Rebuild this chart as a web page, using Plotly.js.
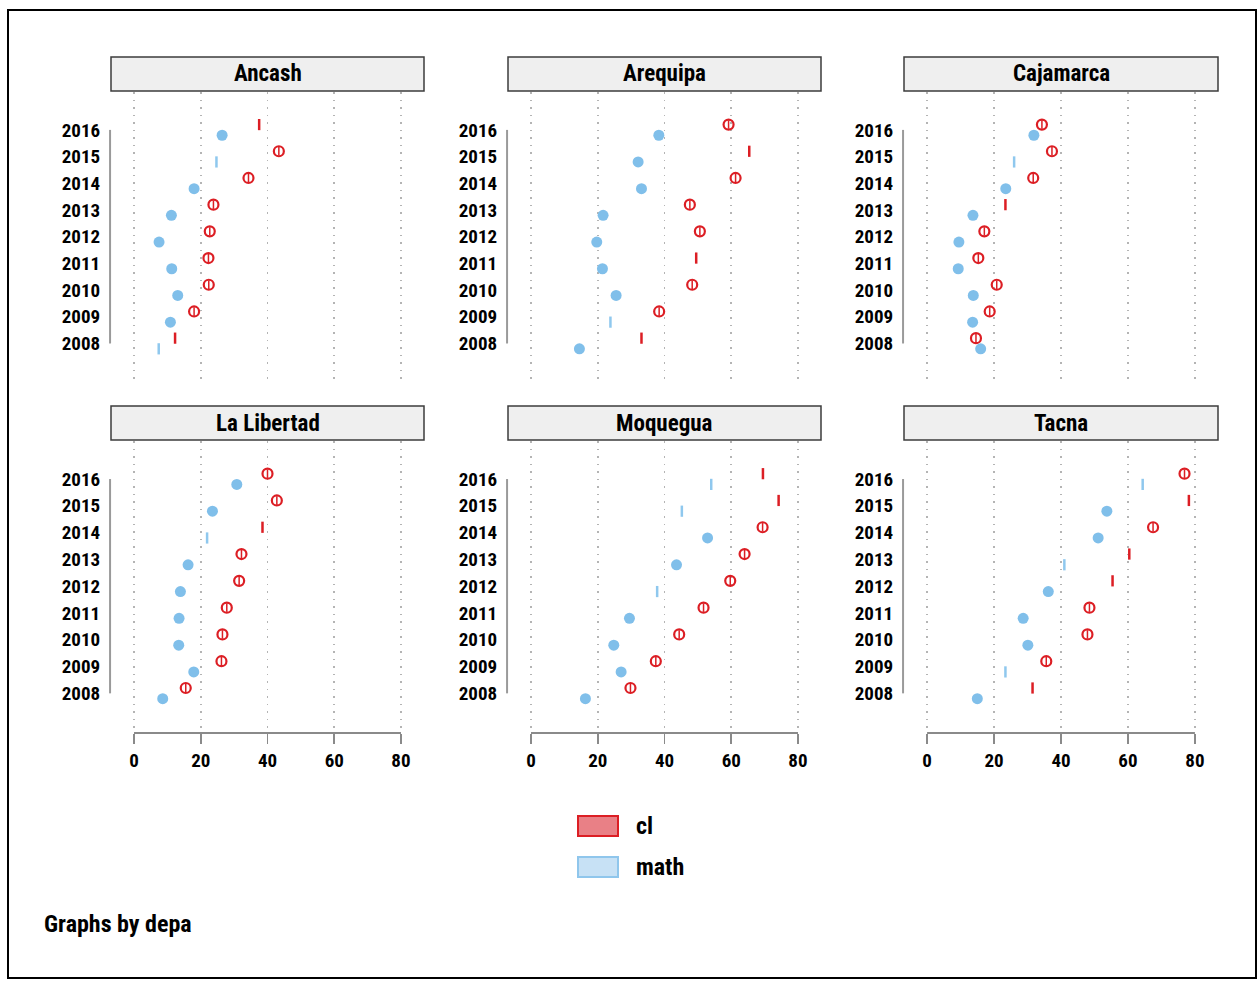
<!DOCTYPE html>
<html>
<head>
<meta charset="utf-8">
<script src="https://cdn.plot.ly/plotly-3.0.1.min.js"></script>
<style>html,body{margin:0;padding:0;background:#fff;}#chart{width:1258px;height:983px;}</style>
</head>
<body>
<div id="chart"></div>
<script>
// ---- data (years 2008..2016) ----
const years = [2008, 2009, 2010, 2011, 2012, 2013, 2014, 2015, 2016];
const regions = ["Ancash", "Arequipa", "Cajamarca", "La Libertad", "Moquegua", "Tacna"];

const ancashCl = [12.3, 18.0, 22.4, 22.3, 22.7, 23.8, 34.3, 43.4, 37.5];
const ancashMath = [7.4, 10.9, 13.1, 11.3, 7.5, 11.2, 18.0, 24.7, 26.4];
const arequipaCl = [33.1, 38.4, 48.3, 49.5, 50.6, 47.6, 61.3, 65.4, 59.2];
const arequipaMath = [14.5, 23.8, 25.5, 21.4, 19.7, 21.6, 33.1, 32.1, 38.3];
const cajamarcaCl = [14.6, 18.7, 20.8, 15.3, 17.1, 23.4, 31.7, 37.3, 34.3];
const cajamarcaMath = [16.0, 13.6, 13.8, 9.3, 9.5, 13.7, 23.5, 26.0, 31.9];
const libertadCl = [15.5, 26.2, 26.5, 27.8, 31.5, 32.2, 38.5, 42.8, 40.0];
const libertadMath = [8.6, 17.9, 13.4, 13.5, 13.9, 16.2, 21.9, 23.5, 30.8];
const moqueguaCl = [29.8, 37.4, 44.4, 51.7, 59.7, 64.0, 69.4, 74.2, 69.5];
const moqueguaMath = [16.3, 27.0, 24.8, 29.5, 37.8, 43.6, 52.9, 45.2, 54.0];
const tacnaCl = [31.5, 35.6, 47.9, 48.5, 55.4, 60.4, 67.5, 78.2, 76.9];
const tacnaMath = [15.0, 23.4, 30.1, 28.7, 36.2, 41.0, 51.1, 53.7, 64.4];

const xTickVals = [0, 20, 40, 60, 80];
const xTickText = ["0", "20", "40", "60", "80"];
const legendLabels = ["cl", "math"];
const noteText = "Graphs by depa";

// ---- style: which marks are drawn as thin ticks (as in the reference) ----
const ancashClTick = [1,0,0,0,0,0,0,0,1];
const ancashMathTick = [1,0,0,0,0,0,0,1,0];
const arequipaClTick = [1,0,0,1,0,0,0,1,0];
const arequipaMathTick = [0,1,0,0,0,0,0,0,0];
const cajamarcaClTick = [0,0,0,0,0,1,0,0,0];
const cajamarcaMathTick = [0,0,0,0,0,0,0,1,0];
const libertadClTick = [0,0,0,0,0,0,1,0,0];
const libertadMathTick = [0,0,0,0,0,0,1,0,0];
const moqueguaClTick = [0,0,0,0,0,0,0,1,1];
const moqueguaMathTick = [0,0,0,0,1,0,0,1,1];
const tacnaClTick = [1,0,0,0,1,1,0,1,0];
const tacnaMathTick = [0,1,0,0,0,1,0,0,1];

const clSeries = [ancashCl, arequipaCl, cajamarcaCl, libertadCl, moqueguaCl, tacnaCl];
const mathSeries = [ancashMath, arequipaMath, cajamarcaMath, libertadMath, moqueguaMath, tacnaMath];
const clTicks = [ancashClTick, arequipaClTick, cajamarcaClTick, libertadClTick, moqueguaClTick, tacnaClTick];
const mathTicks = [ancashMathTick, arequipaMathTick, cajamarcaMathTick, libertadMathTick, moqueguaMathTick, tacnaMathTick];

const W = 1258, H = 983;
const FONT = "Roboto Condensed, Open Sans Condensed, Liberation Sans Narrow, sans-serif";
const RED = "#dc1e24", BLUE = "#80bfea", BLUE_T = "#8fc8ee";
const colPx = [[111, 424], [508, 821], [904, 1218]];
const rowPx = [[92, 383], [441, 733]];
const stripPx = [[57, 91], [406, 440]];
const XR = [-6.9, 86.9];
const YR = [2006.52, 2017.42];

const traces = [];
const layout = {
  width: W, height: H,
  margin: {l: 0, r: 0, t: 0, b: 0},
  paper_bgcolor: "#fff", plot_bgcolor: "#fff",
  showlegend: false,
  font: {family: FONT, color: "#000"},
  shapes: [], annotations: []
};

function pick(arr, flags, want, off) {
  const xs = [], ys = [];
  arr.forEach((v, i) => { if ((flags[i] === 1) === want) { xs.push(v); ys.push(years[i] + off); } });
  return {xs, ys};
}

for (let p = 0; p < 6; p++) {
  const r = Math.floor(p / 3), c = p % 3;
  const sfx = p === 0 ? "" : String(p + 1);
  const xa = "x" + sfx, ya = "y" + sfx;
  const [x0, x1] = colPx[c], [y0, y1] = rowPx[r];
  layout["xaxis" + sfx] = {
    domain: [x0 / W, x1 / W], range: XR, anchor: ya,
    tickvals: xTickVals, ticktext: xTickText,
    showgrid: true, gridcolor: "#b4b4b4", griddash: "1.5px,6px", gridwidth: 1.5,
    zeroline: false, showline: false,
    ticks: r === 1 ? "outside" : "", ticklen: 10, tickwidth: 1.5, tickcolor: "#8a8a8a",
    showticklabels: r === 1,
    tickfont: {family: FONT, size: 19, color: "#000", weight: "bold"},
    fixedrange: true
  };
  layout["yaxis" + sfx] = {
    domain: [1 - y1 / H, 1 - y0 / H], range: YR, anchor: xa,
    tickvals: years, ticktext: years.map(String),
    showgrid: false, zeroline: false, showline: false,
    ticks: "outside", ticklen: 6, tickcolor: "rgba(0,0,0,0)",
    tickfont: {family: FONT, size: 19, color: "#000", weight: "bold"},
    fixedrange: true
  };
  // strip header
  const [s0, s1] = stripPx[r];
  layout.shapes.push({type: "rect", xref: "paper", yref: "paper",
    x0: x0 / W, x1: x1 / W, y0: 1 - s1 / H, y1: 1 - s0 / H,
    fillcolor: "#efefef", line: {color: "#3c3c3c", width: 1.5}});
  layout.annotations.push({xref: "paper", yref: "paper", x: (x0 + x1) / 2 / W, y: 1 - (s0 + s1) / 2 / H,
    text: regions[p], showarrow: false, xanchor: "center", yanchor: "middle",
    font: {family: FONT, size: 23, color: "#000", weight: "bold"}});
  // y axis line (between first and last category)
  layout.shapes.push({type: "line", xref: xa + " domain", yref: ya,
    x0: -0.003, x1: -0.003, y0: years[0], y1: years[years.length - 1],
    line: {color: "#9a9a9a", width: 2}});
  // x axis line on bottom row
  if (r === 1) {
    layout.shapes.push({type: "line", xref: xa, yref: ya + " domain",
      x0: xTickVals[0], x1: xTickVals[xTickVals.length - 1], y0: 0, y1: 0,
      line: {color: "#8a8a8a", width: 2}});
  }
  // cl (red) circles
  const cC = pick(clSeries[p], clTicks[p], false, 0.2);
  traces.push({type: "scatter", mode: "markers", x: cC.xs, y: cC.ys, xaxis: xa, yaxis: ya, name: legendLabels[0],
    marker: {symbol: "circle-open", size: 10, color: RED, line: {width: 2.2, color: RED}}, hoverinfo: "x+y"});
  traces.push({type: "scatter", mode: "markers", x: cC.xs, y: cC.ys, xaxis: xa, yaxis: ya, name: legendLabels[0],
    marker: {symbol: "line-ns-open", size: 6, color: RED, line: {width: 1.5, color: RED}}, hoverinfo: "skip"});
  const cT = pick(clSeries[p], clTicks[p], true, 0.2);
  traces.push({type: "scatter", mode: "markers", x: cT.xs, y: cT.ys, xaxis: xa, yaxis: ya, name: legendLabels[0],
    marker: {symbol: "line-ns-open", size: 8, color: RED, line: {width: 2.5, color: RED}}, hoverinfo: "x+y"});
  // math (blue)
  const mC = pick(mathSeries[p], mathTicks[p], false, -0.2);
  traces.push({type: "scatter", mode: "markers", x: mC.xs, y: mC.ys, xaxis: xa, yaxis: ya, name: legendLabels[1],
    marker: {symbol: "circle", size: 11, color: BLUE, line: {width: 0}}, hoverinfo: "x+y"});
  const mT = pick(mathSeries[p], mathTicks[p], true, -0.2);
  traces.push({type: "scatter", mode: "markers", x: mT.xs, y: mT.ys, xaxis: xa, yaxis: ya, name: legendLabels[1],
    marker: {symbol: "line-ns-open", size: 8, color: BLUE_T, line: {width: 2.5, color: BLUE_T}}, hoverinfo: "x+y"});
}

// legend (drawn manually)
layout.shapes.push({type: "rect", xref: "paper", yref: "paper",
  x0: 578 / W, x1: 618 / W, y0: 1 - 836 / H, y1: 1 - 816 / H,
  fillcolor: "#e98086", line: {color: RED, width: 2}});
layout.shapes.push({type: "rect", xref: "paper", yref: "paper",
  x0: 578 / W, x1: 618 / W, y0: 1 - 877 / H, y1: 1 - 857 / H,
  fillcolor: "#c7e1f5", line: {color: "#8fc6ec", width: 2}});
layout.annotations.push({xref: "paper", yref: "paper", x: 634 / W, y: 1 - 826 / H, text: legendLabels[0],
  showarrow: false, xanchor: "left", yanchor: "middle", font: {family: FONT, size: 24, color: "#000", weight: "bold"}});
layout.annotations.push({xref: "paper", yref: "paper", x: 634 / W, y: 1 - 867 / H, text: legendLabels[1],
  showarrow: false, xanchor: "left", yanchor: "middle", font: {family: FONT, size: 24, color: "#000", weight: "bold"}});
// note
layout.annotations.push({xref: "paper", yref: "paper", x: 42 / W, y: 1 - 924 / H, text: noteText,
  showarrow: false, xanchor: "left", yanchor: "middle", font: {family: FONT, size: 24, color: "#000", weight: "bold"}});
// outer frame
layout.shapes.push({type: "rect", xref: "paper", yref: "paper",
  x0: 8 / W, x1: 1256 / W, y0: 1 - 978 / H, y1: 1 - 10 / H,
  fillcolor: "rgba(0,0,0,0)", line: {color: "#000", width: 2}});

Plotly.newPlot("chart", traces, layout, {displayModeBar: false, staticPlot: true});
</script>
</body>
</html>
